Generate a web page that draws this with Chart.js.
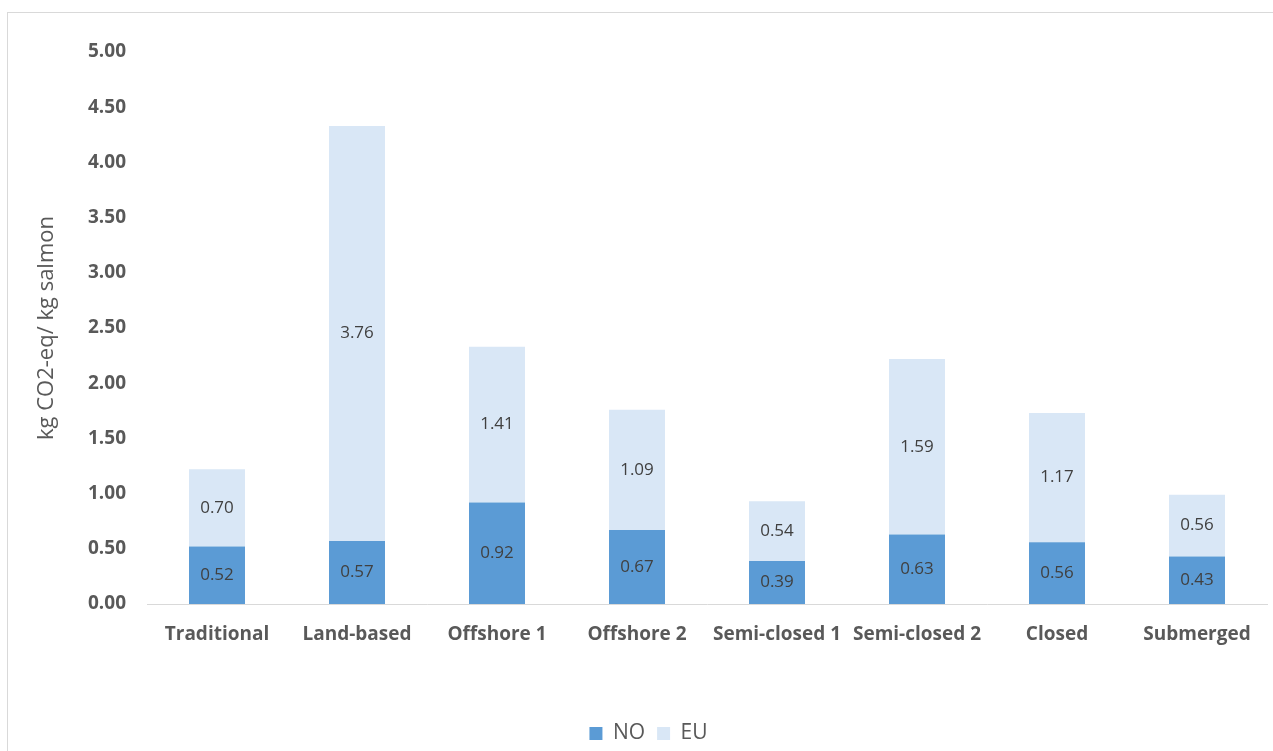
<!DOCTYPE html>
<html>
<head>
<meta charset="utf-8">
<script src="https://cdn.jsdelivr.net/npm/chart.js@4.4.1/dist/chart.umd.min.js"></script>
<style>
  html, body { margin: 0; padding: 0; background: #ffffff; }
  #wrap { position: relative; width: 1273px; height: 751px; overflow: hidden; }
  #frame { position: absolute; left: 7px; top: 12px; width: 1300px; height: 800px;
           border-top: 1px solid #d9d9d9; border-left: 1px solid #d9d9d9; }
  #chart { position: absolute; left: 0; top: 0; }
</style>
</head>
<body>
<div id="wrap">
  <div id="frame"></div>
  <canvas id="chart" width="1273" height="751"></canvas>
</div>
<script>
// Farming systems and their carbon footprint split (kg CO2-eq per kg salmon)
const categories = ['Traditional', 'Land-based', 'Offshore 1', 'Offshore 2',
                    'Semi-closed 1', 'Semi-closed 2', 'Closed', 'Submerged'];
const noValues = [0.52, 0.57, 0.92, 0.67, 0.39, 0.63, 0.56, 0.43];
const euValues = [0.70, 3.76, 1.41, 1.09, 0.54, 1.59, 1.17, 0.56];
const yTicks = [0, 0.5, 1, 1.5, 2, 2.5, 3, 3.5, 4, 4.5, 5];

// Writes each segment's value in the middle of its bar
const segmentLabels = {
  id: 'segmentLabels',
  afterDatasetsDraw(chart) {
    const ctx = chart.ctx;
    ctx.save();
    ctx.font = '17px "Open Sans"';
    ctx.fillStyle = '#404040';
    ctx.textAlign = 'center';
    ctx.textBaseline = 'middle';
    chart.data.datasets.forEach((ds, di) => {
      chart.getDatasetMeta(di).data.forEach((bar, i) => {
        const mid = (bar.y + bar.base) / 2;
        ctx.fillText(ds.data[i].toFixed(2), bar.x, mid);
      });
    });
    ctx.restore();
  }
};

new Chart(document.getElementById('chart'), {
  type: 'bar',
  data: {
    labels: categories,
    datasets: [
      { label: 'NO', data: noValues, backgroundColor: '#5b9bd5' },
      { label: 'EU', data: euValues, backgroundColor: '#d9e7f6' }
    ]
  },
  options: {
    responsive: false,
    animation: false,
    layout: { padding: { left: 30, right: 6, top: 52, bottom: -3 } },
    datasets: { bar: { barPercentage: 0.8, categoryPercentage: 0.5 } },
    scales: {
      x: {
        stacked: true,
        grid: { display: false, drawTicks: false },
        border: { display: true, color: '#d9d9d9', width: 1 },
        ticks: { color: '#595959', padding: 19, maxRotation: 0,
                 font: { family: 'Open Sans', size: 19, weight: 'bold' } },
        afterFit(scale) { scale.height = 107; }
      },
      y: {
        stacked: true,
        min: 0, max: 5,
        afterBuildTicks(scale) { scale.ticks = yTicks.map(v => ({ value: v })); },
        grid: { display: false, drawTicks: false },
        border: { display: false },
        ticks: { color: '#595959', padding: 21,
                 font: { family: 'Open Sans', size: 19, weight: 'bold' },
                 callback: v => Number(v).toFixed(2) },
        title: { display: true, text: 'kg CO2-eq/ kg salmon', color: '#595959',
                 font: { family: 'Open Sans', size: 22 } },
        afterFit(scale) { scale.width = 117; }
      }
    },
    plugins: {
      legend: {
        position: 'bottom',
        labels: { color: '#595959', boxWidth: 13, boxHeight: 13, padding: 12,
                  font: { family: 'Open Sans', size: 21 } }
      },
      tooltip: { enabled: false }
    }
  },
  plugins: [segmentLabels]
});
</script>
</body>
</html>
